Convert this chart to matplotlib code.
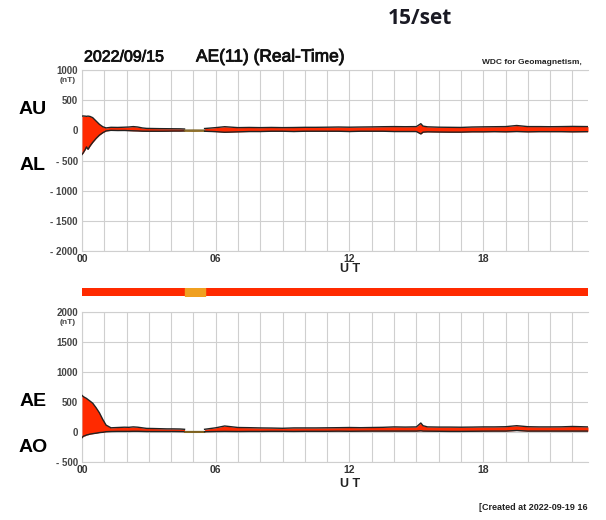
import matplotlib
matplotlib.use("Agg")
import matplotlib.pyplot as plt
import matplotlib.patheffects as pe

# ---------------- data ----------------
# Segment 1 (normal data, red) 00:00 - 04:36 UT
t1 = [0.0, 0.06, 0.15, 0.2, 0.27, 0.36, 0.48, 0.63, 0.78, 0.93, 1.08, 1.3, 1.6, 1.9,
      2.1, 2.3, 2.5, 2.7, 2.9, 3.2, 3.5, 3.8, 4.1, 4.4, 4.6]
au1 = [236, 238, 235, 232, 236, 230, 210, 155, 100, 60, 40, 50, 48, 52,
       55, 62, 55, 40, 32, 30, 28, 27, 26, 25, 22]
al1 = [-400, -370, -315, -275, -315, -260, -200, -135, -80, -40, -10, 0, -3, -2,
       -5, -8, -10, -14, -15, -15, -15, -14, -12, -12, -10]
ae1 = [610, 590, 570, 560, 540, 515, 480, 405, 320, 210, 115, 70, 75, 80,
       78, 85, 80, 70, 60, 58, 55, 52, 52, 50, 45]
ao1 = [-95, -70, -60, -50, -45, -35, -28, -20, -10, -5, 5, 8, 10, 10,
       10, 12, 12, 10, 8, 8, 8, 8, 8, 7, 6]

# Segment 2 (reduced-station data, orange) 04:36 - 05:30 UT
t2 = [4.6, 5.0, 5.5]
au2 = [4, 5, 4]
al2 = [-12, -14, -12]
ae2 = [20, 20, 20]
ao2 = [-4, -5, -4]

# Segment 3 (normal data, red) 05:30 - end
t3 = [5.5, 6.0, 6.4, 7.0, 7.5, 8.0, 8.5, 9.0, 9.5, 10.0, 10.5, 11.0, 11.5, 12.0,
      12.5, 13.0, 13.5, 14.0, 14.5, 15.0, 15.2, 15.3, 15.5, 16.0, 16.5, 17.0,
      17.5, 18.0, 18.5, 19.0, 19.5, 20.0, 20.5, 21.0, 21.5, 22.0, 22.7]
au3 = [30, 45, 60, 45, 48, 45, 48, 45, 47, 50, 50, 52, 55, 52, 55, 57, 60, 62,
       60, 62, 110, 70, 58, 52, 50, 48, 55, 58, 60, 62, 80, 62, 62, 60, 62, 65, 62]
al3 = [-15, -22, -32, -25, -20, -20, -15, -15, -20, -15, -15, -15, -15, -20,
       -15, -15, -15, -20, -20, -20, -60, -30, -25, -28, -30, -30, -25, -25,
       -22, -25, -20, -25, -22, -22, -22, -25, -22]
ae3 = [45, 70, 100, 75, 72, 68, 66, 62, 68, 68, 68, 70, 72, 75, 72, 75, 78, 85,
       82, 85, 150, 105, 85, 82, 82, 80, 82, 85, 85, 88, 105, 88, 85, 85, 86, 92, 85]
ao3 = [5, 8, 10, 8, 10, 10, 12, 12, 10, 12, 12, 12, 14, 12, 14, 15, 15, 15, 15,
       15, 20, 15, 14, 12, 10, 10, 12, 14, 15, 15, 25, 15, 15, 15, 15, 15, 15]

# status bar segments (start hour, duration)
status_red = [(0.0, 4.6), (5.5, 17.2)]
status_orange = [(4.6, 0.9)]

x_ticks = [0, 6, 12, 18]
x_ticklabels = ["00", "06", "12", "18"]
top_yticks = [1000, 500, 0, -500, -1000, -1500, -2000]
top_ylabels = ["1000", "500", "0", "- 500", "- 1000", "- 1500", "- 2000"]
bot_yticks = [2000, 1500, 1000, 500, 0, -500]
bot_ylabels = ["2000", "1500", "1000", "500", "0", "- 500"]

# ---------------- styling ----------------
RED = "#ff2a00"
ORANGE = "#f0a020"
OLIVE = "#b08a30"
GRID = "#cfcfcf"
FONT = "Liberation Sans"
XMAX = 22.7

W, H = 606, 520
fig = plt.figure(figsize=(W / 100, H / 100), dpi=100)

def px_axes(x0, y0, x1, y1):
    return fig.add_axes([x0 / W, 1 - y1 / H, (x1 - x0) / W, (y1 - y0) / H])

def style(ax, ylim, yticks, ylabels):
    ax.set_xlim(0, XMAX)
    ax.set_ylim(*ylim)
    ax.set_xticks(range(0, 23), minor=True)
    ax.set_xticks(x_ticks)
    ax.set_xticklabels(x_ticklabels, fontsize=7.5, fontweight="bold",
                       family=FONT, color="#333333")
    ax.set_yticks(yticks)
    ax.set_yticklabels(ylabels, fontsize=7, fontweight="bold",
                       family=FONT, color="#444444")
    ax.grid(True, which="both", axis="x", color=GRID, lw=0.8)
    ax.grid(True, which="major", axis="y", color=GRID, lw=0.8)
    ax.tick_params(which="both", length=0, pad=3)
    ax.tick_params(axis="x", pad=2)
    for s in ["left", "top", "bottom"]:
        ax.spines[s].set_color(GRID)
        ax.spines[s].set_linewidth(0.8)
    ax.spines["right"].set_visible(False)
    ax.set_axisbelow(True)

def band(ax, t, hi, lo, color, edge="#222222", lw=1.0):
    ax.fill_between(t, lo, hi, color=color, lw=0, zorder=3)
    ax.plot(t, hi, color=edge, lw=lw, zorder=4)
    ax.plot(t, lo, color=edge, lw=lw, zorder=4)

# ---- top panel AU/AL ----
ax1 = px_axes(82, 70, 588, 251)
style(ax1, (-2000, 1000), top_yticks, top_ylabels)
band(ax1, t1, au1, al1, RED)
band(ax1, t2, au2, al2, ORANGE, edge="#7a6020", lw=0.9)
band(ax1, t3, au3, al3, RED)

# ---- status bar ----
axs = px_axes(82, 288, 588, 296)
axs.set_xlim(0, XMAX)
axs.set_ylim(0, 1)
axs.broken_barh(status_red, (0, 1), color=RED)
axs.broken_barh(status_orange, (0, 1), color=ORANGE)
axs.axis("off")

# ---- bottom panel AE/AO ----
ax2 = px_axes(82, 312, 588, 462)
style(ax2, (-500, 2000), bot_yticks, bot_ylabels)
band(ax2, t1, ae1, ao1, RED)
band(ax2, t2, ae2, ao2, ORANGE, edge="#7a6020", lw=0.9)
band(ax2, t3, ae3, ao3, RED)

# ---------------- text ----------------
def ftext(x, y, s, **kw):
    return fig.text(x / W, 1 - y / H, s, **kw)

heavy = [pe.withStroke(linewidth=0.6, foreground="#111111")]

ftext(420, 18, "15/set", fontsize=15, fontweight="bold", family="Open Sans",
      color="#1a1a24", ha="center", va="center")
ftext(84, 57, "2022/09/15", fontsize=11.5, family=FONT, ha="left", va="center",
      color="#111111", path_effects=heavy)
ftext(196, 57, "AE(11) (Real-Time)", fontsize=12.5, family=FONT, ha="left",
      va="center", color="#111111", path_effects=heavy)
ftext(582, 62, "WDC for Geomagnetism,", fontsize=6, fontweight="bold", family=FONT,
      ha="right", va="center", color="#222222")
ftext(76, 81, "(nT)", fontsize=6, fontweight="bold", family=FONT, ha="right",
      va="center", color="#444444")
ftext(76, 322, "(nT)", fontsize=6, fontweight="bold", family=FONT, ha="right",
      va="center", color="#444444")
ftext(33, 110, "AU", fontsize=14, fontweight="bold", family=FONT, ha="center",
      va="center")
ftext(33, 166, "AL", fontsize=14, fontweight="bold", family=FONT, ha="center",
      va="center")
ftext(33, 402, "AE", fontsize=14, fontweight="bold", family=FONT, ha="center",
      va="center")
ftext(33, 447, "AO", fontsize=14, fontweight="bold", family=FONT, ha="center",
      va="center")
ftext(350, 269, "U T", fontsize=9, fontweight="bold", family=FONT, ha="center",
      va="center", color="#222222")
ftext(350, 484, "U T", fontsize=9, fontweight="bold", family=FONT, ha="center",
      va="center", color="#222222")
ftext(588, 508, "[Created at 2022-09-19 16", fontsize=6.5, fontweight="bold",
      family=FONT, ha="right", va="center", color="#222222")

fig.savefig("out.png", dpi=100)
